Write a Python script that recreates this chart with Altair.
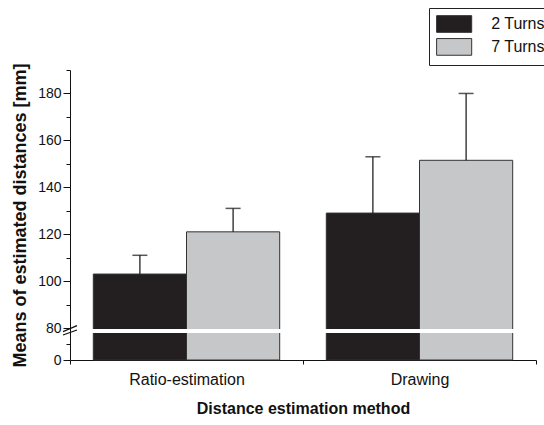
import altair as alt
import pandas as pd

methods = ["Ratio-estimation", "Drawing"]
turns = ["2 Turns", "7 Turns"]
means = [103, 121, 129, 151.5]
upper = [111, 131, 153, 180]

major_ticks = [0, 80, 100, 120, 140, 160, 180]
minor_ticks = [40, 90, 110, 130, 150, 170, 190]
break_band = [67.5, 77.5]
slash1 = [71, 81]
slash2 = [62.5, 75]

df = pd.DataFrame({
    "method": [m for m in methods for _ in turns],
    "turns": [t for _ in methods for t in turns],
    "mean": means,
    "upper": upper,
})

W, H = 466, 290
yscale = alt.Scale(domain=[0, 80, 190], range=[H, H - 32, 0], nice=False, zero=False)

xenc = alt.X("method:N", sort=methods,
             scale=alt.Scale(paddingInner=0, paddingOuter=0),
             axis=alt.Axis(title="Distance estimation method", labelAngle=0,
                           labelFontSize=16, labelPadding=7, tickSize=4,
                           tickBand="extent", titleFontSize=16, titleFontWeight="bold",
                           titlePadding=13, domainColor="#111", tickColor="#111",
                           labelColor="#111", titleColor="#111"))
xoff = alt.XOffset("turns:N", sort=turns, scale=alt.Scale(paddingInner=0, paddingOuter=0.25))

base = alt.Chart(df).encode(x=xenc, xOffset=xoff)

bars = base.mark_bar(stroke="#333", strokeWidth=1).encode(
    y=alt.Y("mean:Q", scale=yscale,
            axis=alt.Axis(values=major_ticks, title="Means of estimated distances [mm]",
                          labelFontSize=14, tickSize=7, labelPadding=2,
                          titleFontSize=18, titleFontWeight="bold", titlePadding=8,
                          domainColor="#111", tickColor="#111", labelColor="#111",
                          titleColor="#111", grid=False)),
    color=alt.Color("turns:N", sort=turns,
                    scale=alt.Scale(domain=turns, range=["#231f20", "#c6c7c9"]),
                    legend=alt.Legend(orient="none", legendX=359, legendY=-62, title=None,
                                      strokeColor="#222", padding=7,
                                      symbolType="M-2.1,-1H2.1V1H-2.1Z", symbolSize=279,
                                      symbolOffset=9.15,
                                      symbolStrokeColor="#333", symbolStrokeWidth=1,
                                      labelFontSize=16, labelOffset=28, rowPadding=0.9,
                                      labelColor="#111")),
)

rules = base.mark_rule(color="#111", strokeWidth=1.2).encode(
    y=alt.Y("mean:Q", scale=yscale,
            axis=alt.Axis(values=minor_ticks, labels=False, domain=False, tickSize=4,
                          title=None, orient="left", tickColor="#111", grid=False)),
    y2="upper:Q",
)

caps = base.mark_tick(color="#111", size=15, thickness=1.5).encode(
    y=alt.Y("upper:Q", scale=yscale, axis=None),
)

band = alt.Chart(pd.DataFrame({"lo": [break_band[0]], "hi": [break_band[1]]})).mark_rect(color="white").encode(
    x=alt.value(1), x2=alt.value(W), y=alt.Y("lo:Q", scale=yscale, axis=None), y2="hi:Q")

slashes = alt.Chart(pd.DataFrame({"a": [slash1[0], slash2[0]], "b": [slash1[1], slash2[1]]})).mark_rule(
    color="#111", strokeWidth=1.2).encode(
    x=alt.value(-7), x2=alt.value(7), y=alt.Y("a:Q", scale=yscale, axis=None), y2="b:Q")

chart = alt.layer(bars, rules, caps, band, slashes).resolve_axis(y="independent").properties(
    width=W, height=H,
    autosize=alt.AutoSizeParams(type="none"),
    padding={"left": 70, "top": 70, "right": 8, "bottom": 65},
).configure(font="Liberation Sans").configure_view(stroke=None)

chart.save("out.html", embed_options={"renderer": "svg", "actions": False})
